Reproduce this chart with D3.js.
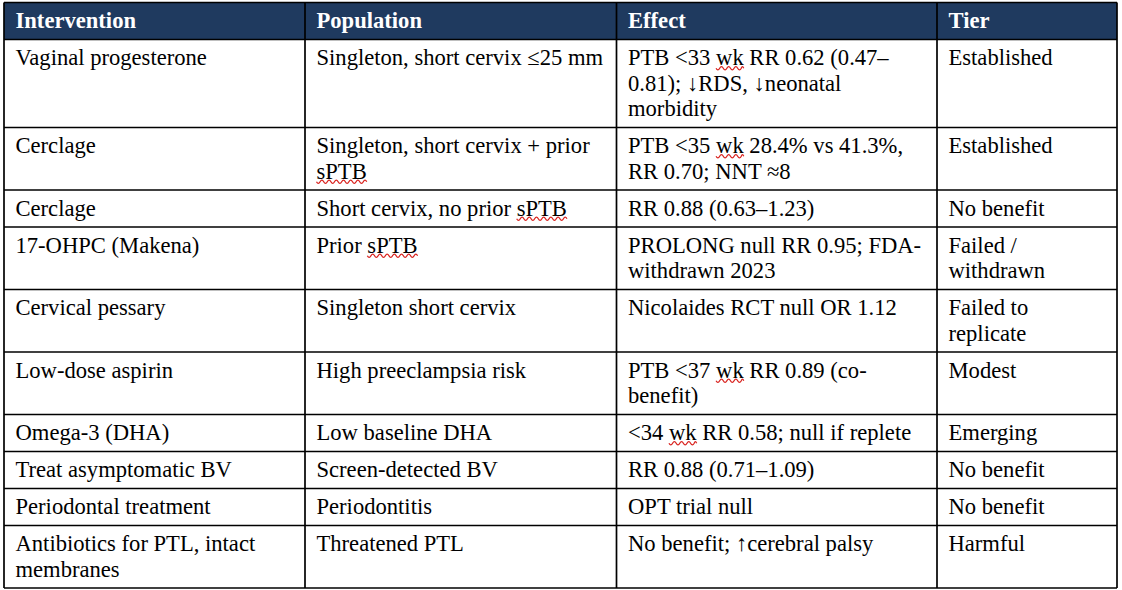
<!DOCTYPE html>
<html>
<head>
<meta charset="utf-8">
<script src="https://cdn.jsdelivr.net/npm/d3@7"></script>
<style>
  html, body { margin: 0; padding: 0; background: #fff; }
  svg { display: block; }
</style>
</head>
<body>
<svg id="chart"></svg>
<script>
// table content, line breaks kept as they wrap in the original
const columns = ["Intervention", "Population", "Effect", "Tier"];
const interventions = [
    "Vaginal progesterone", "Cerclage", "Cerclage", "17-OHPC (Makena)", "Cervical pessary",
    "Low-dose aspirin", "Omega-3 (DHA)", "Treat asymptomatic BV", "Periodontal treatment",
    "Antibiotics for PTL, intact\nmembranes"
];
const populations = [
    "Singleton, short cervix ≤25 mm", "Singleton, short cervix + prior\nsPTB", "Short cervix, no prior sPTB",
    "Prior sPTB", "Singleton short cervix", "High preeclampsia risk", "Low baseline DHA",
    "Screen-detected BV", "Periodontitis", "Threatened PTL"
];
const effects = [
    "PTB <33 wk RR 0.62 (0.47–\n0.81); ↓RDS, ↓neonatal\nmorbidity",
    "PTB <35 wk 28.4% vs 41.3%,\nRR 0.70; NNT ≈8",
    "RR 0.88 (0.63–1.23)",
    "PROLONG null RR 0.95; FDA-\nwithdrawn 2023",
    "Nicolaides RCT null OR 1.12",
    "PTB <37 wk RR 0.89 (co-\nbenefit)",
    "<34 wk RR 0.58; null if replete",
    "RR 0.88 (0.71–1.09)",
    "OPT trial null",
    "No benefit; ↑cerebral palsy"
];
const tiers = [
    "Established", "Established", "No benefit", "Failed /\nwithdrawn", "Failed to\nreplicate",
    "Modest", "Emerging", "No benefit", "No benefit", "Harmful"
];
// words the spell checker underlined
const flaggedWords = ["wk", "sPTB"];

// layout
const W = 1122, H = 590;
const tableLeft = 4, tableTop = 2.5;
const colWidths = [301, 311.5, 320.5, 180];
const fontSize = 22.6, lineH = 25.5, padY = 5.75, padX = 11.5;
const headerFill = "#1f3a5f";
const font = "'Liberation Serif', 'Times New Roman', Times, serif";

const svg = d3.select("#chart").attr("width", W).attr("height", H);

const colEdges = [tableLeft, ...d3.cumsum(colWidths).map(d => tableLeft + d)];
const rows = [columns, ...interventions.map((d, i) => [d, populations[i], effects[i], tiers[i]])];
const lineCounts = rows.map(r => d3.max(r, c => c.split("\n").length));
const rowHeights = lineCounts.map(n => n * lineH + 2 * padY);
const rowEdges = [tableTop, ...d3.cumsum(rowHeights).map(d => tableTop + d)];

// header band
svg.append("rect")
    .attr("x", colEdges[0]).attr("y", rowEdges[0])
    .attr("width", colEdges[4] - colEdges[0]).attr("height", rowHeights[0])
    .attr("fill", headerFill);

const textG = svg.append("g")
    .attr("font-family", font)
    .attr("font-size", fontSize);
const squiggleG = svg.append("g");

function squiggle(x0, x1, y) {
    const step = 3.6;
    let p = `M${x0},${y}`;
    let up = false;
    for (let x = x0; x < x1 - 0.5; x += step) {
        const nx = Math.min(x + step, x1);
        p += ` Q${(x + nx) / 2},${up ? y - 3.2 : y + 3.2} ${nx},${y}`;
        up = !up;
    }
    return p;
}

rows.forEach((row, ri) => {
    row.forEach((cell, ci) => {
        cell.split("\n").forEach((line, li) => {
            const baseline = rowEdges[ri] + padY + li * lineH + 20.2;
            const t = textG.append("text")
                .attr("x", colEdges[ci] + padX)
                .attr("y", baseline)
                .attr("fill", ri === 0 ? "#fff" : "#000")
                .attr("font-weight", ri === 0 ? "bold" : null)
                .text(line);
            if (ri === 0) return;
            const node = t.node();
            flaggedWords.forEach(w => {
                const re = new RegExp(`\\b${w}\\b`, "g");
                let m;
                while ((m = re.exec(line)) !== null) {
                    const x0 = colEdges[ci] + padX + node.getSubStringLength(0, m.index);
                    const x1 = x0 + node.getSubStringLength(m.index, w.length);
                    squiggleG.append("path")
                        .attr("d", squiggle(x0, x1, baseline + 2.8))
                        .attr("fill", "none")
                        .attr("stroke", "#d9231f")
                        .attr("stroke-width", 1.3);
                }
            });
        });
    });
});

// grid lines
const grid = svg.append("g").attr("stroke", "#000").attr("stroke-width", 1.7);
grid.selectAll("line.h").data(rowEdges).join("line")
    .attr("class", "h")
    .attr("x1", colEdges[0]).attr("x2", colEdges[4])
    .attr("y1", d => d).attr("y2", d => d);
grid.selectAll("line.v").data(colEdges).join("line")
    .attr("class", "v")
    .attr("x1", d => d).attr("x2", d => d)
    .attr("y1", rowEdges[0]).attr("y2", rowEdges[rowEdges.length - 1]);
</script>
</body>
</html>
